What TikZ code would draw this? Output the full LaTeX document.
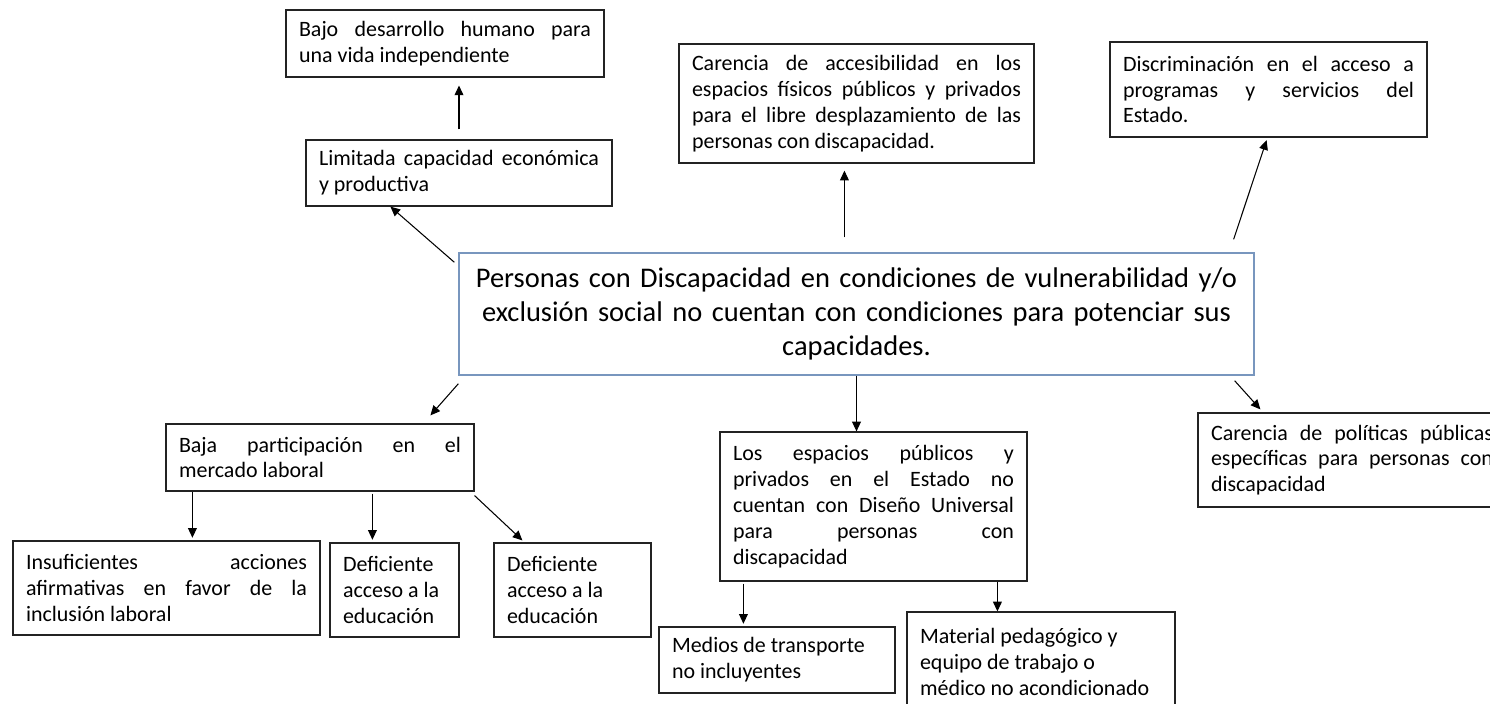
\documentclass[tikz,border=0pt]{standalone}
\usepackage{fontspec}
\setmainfont{Carlito}
\usetikzlibrary{arrows.meta,calc}
\definecolor{framegray}{RGB}{35,35,35}
\definecolor{coreblue}{RGB}{120,150,190}
\hbadness=10000
\begin{document}
\begin{tikzpicture}[x=0.02cm, y=-0.02cm,
    effect/.style={draw=framegray, line width=0.7pt, rectangle, inner xsep=0.26cm, inner ysep=2pt,
      align=justify, font=\fontsize{12.5}{14.7}\selectfont},
    core/.style={draw=coreblue, line width=0.8pt, rectangle, inner xsep=0.26cm,
      align=center, font=\fontsize{16.2}{19.3}\selectfont},
    link/.style={-{Triangle[length=5.5pt,width=5pt]}, line width=0.6pt}
]
  \path[use as bounding box, fill=white] (0,0) rectangle (1490,703);
  \clip (0,0) rectangle (1490,703);

  % central problem
  \node[core, text width=15.38cm, minimum height=2.44cm] (central) at (856.5,314)
    {Personas con Discapacidad en condiciones de vulnerabilidad y/o\\
     exclusión social no cuentan con condiciones para potenciar sus\\
     capacidades.};

  % upper side
  \node[effect, text width=5.84cm, minimum height=1.34cm] (bajo) at (445,43.5)
    {Bajo desarrollo humano para\linebreak una vida independiente};
  \node[effect, text width=5.6cm, minimum height=1.32cm] (limit) at (459,173)
    {Limitada capacidad económica\linebreak y productiva};
  \node[effect, text width=6.58cm, minimum height=2.38cm] (acces) at (856.5,103.5)
    {Carencia de accesibilidad en los\linebreak espacios físicos públicos y privados\linebreak
     para el libre desplazamiento de las\linebreak personas con discapacidad.};
  \node[effect, text width=5.82cm, minimum height=1.9cm] (discr) at (1268.5,89.5)
    {Discriminación en el acceso a\linebreak programas y servicios del\linebreak Estado.};

  % lower side
  \node[effect, text width=5.64cm, minimum height=1.34cm] (baja) at (320,457.5)
    {Baja participación en el\linebreak mercado laboral};
  \node[effect, text width=5.62cm, minimum height=1.88cm] (insuf) at (166.5,588)
    {Insuficientes acciones\linebreak afirmativas en favor de la\linebreak inclusión laboral};
  \node[effect, text width=2.06cm, minimum height=1.88cm] (defic1) at (394.5,590)
    {Deficiente\\ acceso a la\\ educación};
  \node[effect, text width=2.62cm, minimum height=1.88cm] (defic2) at (572.5,590)
    {Deficiente\\ acceso a la\\ educación};
  \node[effect, text width=5.62cm, minimum height=2.98cm] (diseno) at (873.5,506.5)
    {Los espacios públicos y\linebreak privados en el Estado no\linebreak cuentan con Diseño Universal\linebreak
     para personas con\linebreak discapacidad};
  \node[effect, text width=4.2cm, minimum height=1.32cm] (medios) at (777,660)
    {Medios de transporte\\ no incluyentes};
  \node[effect, text width=4.84cm, minimum height=2.0cm] (material) at (1041,662)
    {Material pedagógico y\\ equipo de trabajo o\\ médico no acondicionado};
  \node[effect, text width=5.64cm, minimum height=1.88cm] (polit) at (1352,460)
    {Carencia de políticas públicas\linebreak específicas para personas con\linebreak discapacidad};

  % arrow ends
  \coordinate (hAcces) at ($(acces.south west)+(166,0)$);
  \coordinate (tInsuf) at ($(baja.south west)+(27,0)$);
  \coordinate (tDefic) at ($(baja.south west)+(207,2)$);
  \coordinate (tMedios) at ($(diseno.south west)+(24,2)$);
  \coordinate (tMaterial) at ($(diseno.south west)+(278,0)$);

  % connectors
  \draw[link, shorten <=5.7pt, shorten >=4.5pt] (limit.north) -- (limit.north |- bajo.south);
  \draw[link] ($(central.north west)+(-4,10)$) -- ($(limit.south west)+(85,0)$);
  \draw[link, shorten <=8.5pt, shorten >=4pt] (hAcces |- central.north) -- (hAcces);
  \draw[link, shorten >=1.5pt] ($(central.north east)+(-21,-13)$) -- ($(discr.south west)+(158,0)$);
  \draw[link] ($(central.south west)+(0,8)$) -- ($(baja.north west)+(265,-8)$);
  \draw[link] (central.south) -- (central.south |- diseno.north);
  \draw[link] ($(central.south east)+(-20,5)$) -- ($(polit.north west)+(63,-3)$);
  \draw[link, shorten >=1.5pt] (tInsuf) -- (tInsuf |- insuf.north);
  \draw[link, shorten >=1.5pt] (tDefic) -- (tDefic |- defic1.north);
  \draw[link] ($(baja.south east)+(0,4)$) -- ($(defic2.north west)+(29,-2)$);
  \draw[link, shorten >=1.5pt] (tMedios) -- (tMedios |- medios.north);
  \draw[link] (tMaterial) -- (tMaterial |- material.north);
\end{tikzpicture}
\end{document}
